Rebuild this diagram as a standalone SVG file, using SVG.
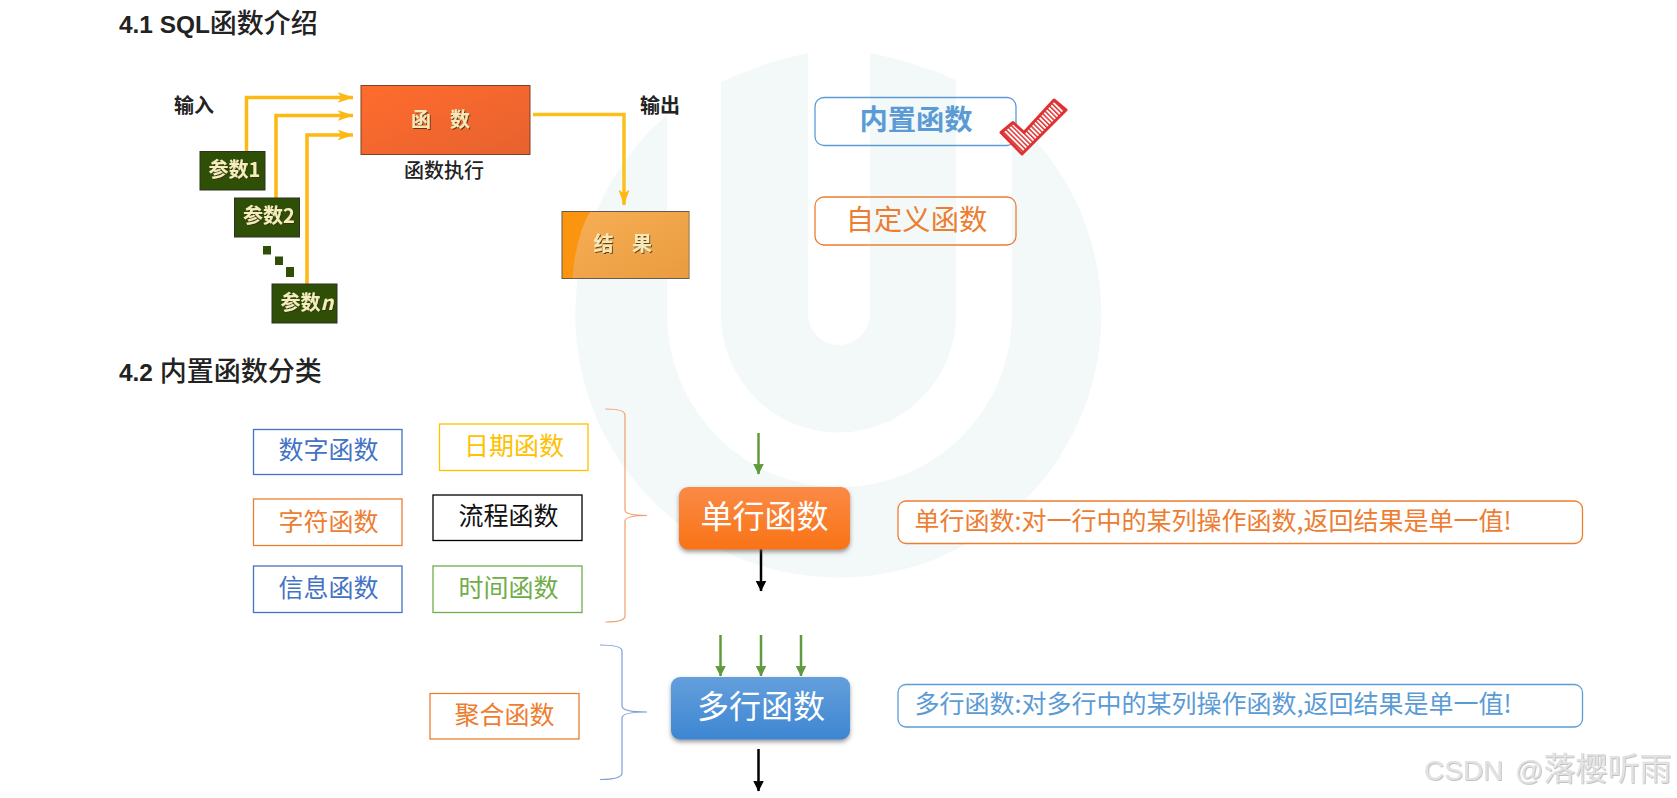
<svg xmlns="http://www.w3.org/2000/svg" width="1677" height="798" viewBox="0 0 1677 798">
<style>
text{font-family:"Noto Sans CJK SC","Liberation Sans",sans-serif;text-anchor:middle}
.h{font-family:"Liberation Sans","Noto Sans CJK SC",sans-serif;font-size:24.4px;font-weight:700;fill:#222;text-anchor:start}
.c{font-family:"Noto Sans CJK SC",sans-serif;font-size:27px;font-weight:500}
.lb{font-size:20px;font-weight:700;fill:#222}
.gt{font-size:20px;font-weight:700;fill:#f3eebb;filter:url(#ts)}
.ot{font-size:20px;font-weight:700;fill:#f8e8b8;filter:url(#ts)}
.pg{fill:#2f4f07;stroke:#2a3320;stroke-width:1}
.fn{fill:none;stroke-width:1.3}
.t25{font-size:25px}
.bl{stroke:#4472c4}.bt{fill:#4472c4}
.or{stroke:#ed7d31}.ot2{fill:#ed7d31}
.ye{stroke:#ffc000}.yt{fill:#ffc000}
.gr{stroke:#70ad47}.gt2{fill:#70ad47}
.bk{stroke:#000}.kt{fill:#111}
.sky{stroke:#5b9bd5}.st{fill:#5b9bd5}
.y{fill:none;stroke:#fdb813;stroke-width:3.500;marker-end:url(#ya)}
.ga{fill:none;stroke:#5f9a3c;stroke-width:2.500;marker-end:url(#ga)}
.ka{fill:none;stroke:#000;stroke-width:2.500;marker-end:url(#ka)}
.br{fill:none;stroke-width:1.200}
.big{font-size:32px;fill:#fff}
.desc{font-size:25px;text-anchor:start}
</style>
<defs>
<marker id="ya" viewBox="0 0 16 12" markerWidth="16" markerHeight="12" markerUnits="userSpaceOnUse" refX="15.500" refY="6" orient="auto"><path d="M0,0.500 L16,6 L0,11.500 L4,6Z" fill="#fdb813"/></marker>
<marker id="ga" viewBox="0 0 11 12" markerWidth="11" markerHeight="12" markerUnits="userSpaceOnUse" refX="10.500" refY="6" orient="auto"><path d="M0,0.500 L11,6 L0,11.500 L1,6Z" fill="#5f9a3c"/></marker>
<marker id="ka" viewBox="0 0 11 12" markerWidth="11" markerHeight="12" markerUnits="userSpaceOnUse" refX="10.500" refY="6" orient="auto"><path d="M0,0.500 L11,6 L0,11.500 L1,6Z" fill="#000"/></marker>
<linearGradient id="fg" x1="0" y1="0" x2="1" y2="1"><stop offset="0" stop-color="#ff6c2d"/><stop offset="1" stop-color="#e7622f"/></linearGradient>
<linearGradient id="og" x1="0" y1="0" x2="0" y2="1"><stop offset="0" stop-color="#fb8a46"/><stop offset="1" stop-color="#f97316"/></linearGradient>
<linearGradient id="bg" x1="0" y1="0" x2="0" y2="1"><stop offset="0" stop-color="#649fdc"/><stop offset="1" stop-color="#3d86d2"/></linearGradient>
<linearGradient id="rg" x1="0" y1="0" x2="1" y2="1"><stop offset="0" stop-color="#f7ae55"/><stop offset="1" stop-color="#ea9c3f"/></linearGradient>
<filter id="sh" x="-10%" y="-20%" width="120%" height="150%"><feDropShadow dx="0" dy="2.500" stdDeviation="2" flood-color="#555" flood-opacity=".6"/></filter>
<filter id="ts" x="-10%" y="-10%" width="125%" height="125%"><feDropShadow dx="1" dy="1" stdDeviation=".4" flood-color="#3a2a10" flood-opacity=".8"/></filter>
<filter id="em" x="-5%" y="-5%" width="110%" height="115%"><feDropShadow dx=".7" dy=".8" stdDeviation=".5" flood-color="#aaa" flood-opacity=".9"/></filter>
<pattern id="hatch" width="3.400" height="4" patternUnits="userSpaceOnUse" patternTransform="rotate(-45)"><rect width="3.400" height="4" fill="#fff"/><rect width="1.500" height="4" fill="#de3232"/></pattern>
</defs>
<g id="watermark-logo" fill="#f3f8f8">
<path d="M667,115 A263,263 0 1 0 1012,117 L1012,315 A172,172 0 0 1 667,315Z"/>
<path d="M721,82 Q760,63 808,53 L808,314 A31,31 0 0 0 870,314 L870,53 Q915,62 956,80 L956,315 A117.500,117.500 0 0 1 721,315Z"/>
</g>
<text class="h" x="119" y="33">4.1 SQL<tspan class="c">函数介绍</tspan></text>
<text class="h" x="119" y="381">4.2 <tspan class="c">内置函数分类</tspan></text>
<g id="connectors">
<path class="y" d="M246.500,151 V97.500 H353"/>
<path class="y" d="M276,198 V115.500 H353"/>
<path class="y" d="M307,284 V135 H353"/>
<path class="y" d="M533,114.500 H624 V205" style="stroke:#fbc01e"/>
<path class="ga" d="M758.500,433 V474"/>
<path class="ka" d="M761,549 V591"/>
<path class="ga" d="M720.500,635 V676"/>
<path class="ga" d="M761,635 V676"/>
<path class="ga" d="M801,635 V676"/>
<path class="ka" d="M758.500,749 V791"/>
<path class="br or" style="stroke:#f0a070" d="M605.500,409 Q625,409 625,415 V510 Q625,515.500 647,515.500 Q625,515.500 625,521 V616 Q625,622 605.500,622"/>
<path class="br bl" style="stroke:#7f9fd6" d="M600,645 Q622,645 622,651 V706 Q622,712 647,712 Q622,712 622,718 V773 Q622,779.500 600,779.500"/>
</g>
<g id="label-in"><text class="lb" x="194" y="113">输入</text></g>
<g id="label-out"><text class="lb" x="660" y="113">输出</text></g>
<g id="func"><rect x="361" y="85.500" width="169" height="69" fill="url(#fg)" stroke="#7d4028" stroke-width="1"/><text class="ot" x="421" y="127">函</text><text class="ot" x="460" y="127">数</text></g>
<g id="func-exec"><text class="lb" x="444" y="178" style="font-weight:500">函数执行</text></g>
<g id="p1"><rect class="pg" x="200" y="151.500" width="65" height="38.500"/><text class="gt" x="234.500" y="177">参数1</text></g>
<g id="p2"><rect class="pg" x="234.500" y="198" width="65" height="39"/><text class="gt" x="269" y="223">参数2</text></g>
<g id="dots" fill="#2f4f07"><rect x="263" y="246" width="8" height="8.500"/><rect x="275" y="256.500" width="8" height="8.500"/><rect x="286" y="267" width="8" height="10"/></g>
<g id="pn"><rect class="pg" x="272" y="284" width="65" height="39"/><text class="gt" x="307" y="310">参数<tspan font-style="italic">n</tspan></text></g>
<g id="result"><rect x="562" y="211.500" width="127" height="67" fill="#fb9510" stroke="#6a5a48" stroke-width="1"/><path d="M590,212 H688.500 V278 H572.500 Q576,235 590,212Z" fill="url(#rg)"/><text class="ot" x="603.500" y="251">结</text><text class="ot" x="642" y="251">果</text></g>
<g id="builtin"><rect class="sky" x="815" y="97.500" width="201" height="48" rx="9" fill="none" stroke-width="1.300"/><text class="st" x="916" y="130" font-size="28.300" font-weight="700">内置函数</text></g>
<g id="check"><path d="M1001,132.500 L1013,122.500 L1024,132.500 L1054,100 L1066,110 L1022,154Z" fill="url(#hatch)" stroke="#de3232" stroke-width="3" stroke-linejoin="round"/></g>
<g id="custom"><rect class="or" x="815" y="197" width="201" height="48" rx="9" fill="none" stroke-width="1.300"/><text class="ot2" x="916.500" y="230" font-size="28.300">自定义函数</text></g>
<g id="n-num"><rect class="fn bl" x="253.500" y="429.500" width="148.500" height="45"/><text class="t25 bt" x="328.500" y="459">数字函数</text></g>
<g id="n-str"><rect class="fn or" x="253.500" y="499" width="148.500" height="46.500"/><text class="t25 ot2" x="328.500" y="531">字符函数</text></g>
<g id="n-info"><rect class="fn bl" x="253.500" y="566" width="148.500" height="46.500"/><text class="t25 bt" x="328.500" y="597">信息函数</text></g>
<g id="n-date"><rect class="fn ye" x="439.500" y="424" width="148.500" height="46.500"/><text class="t25 yt" x="514" y="455">日期函数</text></g>
<g id="n-flow"><rect class="fn bk" x="433" y="495" width="149" height="45.500"/><text class="t25 kt" x="508.500" y="525">流程函数</text></g>
<g id="n-time"><rect class="fn gr" x="433" y="566" width="149" height="46.500"/><text class="t25 gt2" x="508.500" y="597">时间函数</text></g>
<g id="n-agg"><rect class="fn or" x="430" y="693.500" width="149" height="45.500"/><text class="t25 ot2" x="504.500" y="724">聚合函数</text></g>
<g id="single"><rect x="679" y="487" width="171" height="62.500" rx="9" fill="url(#og)" filter="url(#sh)"/><text class="big" x="764.500" y="528">单行函数</text></g>
<g id="multi"><rect x="671" y="677" width="179" height="62.500" rx="9" fill="url(#bg)" filter="url(#sh)"/><text class="big" x="761" y="718">多行函数</text></g>
<g id="desc-single"><rect class="or" x="898" y="501" width="684.500" height="42.500" rx="8" fill="#fff" stroke-width="1.300"/><text class="ot2 desc" x="914.500" y="530">单行函数:对一行中的某列操作函数,返回结果是单一值!</text></g>
<g id="desc-multi"><rect class="sky" x="898" y="684.500" width="684.500" height="42.500" rx="8" fill="#fff" stroke-width="1.300"/><text class="st desc" x="914.500" y="713">多行函数:对多行中的某列操作函数,返回结果是单一值!</text></g>
<text x="1424" y="780" font-size="28" fill="#e2e2e2" filter="url(#em)" style="font-family:'Liberation Sans','Noto Sans CJK SC',sans-serif;text-anchor:start;word-spacing:4px">CSDN @<tspan font-size="32" style="font-family:'Noto Sans CJK SC',sans-serif">落樱听雨</tspan></text>
</svg>
